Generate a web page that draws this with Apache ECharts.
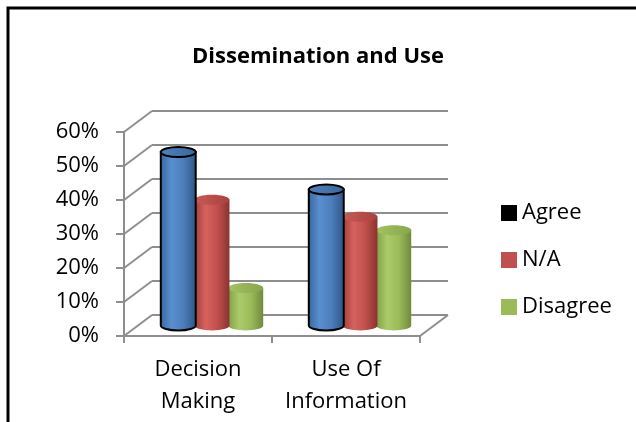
<!DOCTYPE html>
<html>
<head>
<meta charset="utf-8">
<script src="https://cdn.jsdelivr.net/npm/echarts@6/dist/echarts.min.js"></script>
<style>
  html, body { margin: 0; padding: 0; background: #fff; }
  #chart { width: 636px; height: 422px; }
</style>
</head>
<body>
<div id="chart"></div>
<script>
// Survey results: share of respondents per answer
const categories = ['Decision\nMaking', 'Use Of\nInformation'];
const seriesNames = ['Agree', 'N/A', 'Disagree'];
const agree = [51, 40];
const notApplicable = [37, 32];
const disagree = [11, 28];
const tickValues = [0, 10, 20, 30, 40, 50, 60];

const seriesValues = [agree, notApplicable, disagree];

// depth of the 3D box (back wall offset from the front plane)
const DX = 28, DY = -21;
const FONT = '"Open Sans", "DejaVu Sans", sans-serif';
const GRID_LINE = '#8e8e8e';

// cylinder shading per series
const shades = [
  { body: ['#36659c', '#5a8fd0', '#4b7dba', '#2c5483'], top: ['#4f80bb', '#3a689d'], stroke: '#000' },
  { body: ['#a23d3a', '#d6625e', '#c1504c', '#8a3330'], top: ['#c85a56', '#a8413e'], stroke: null },
  { body: ['#83a048', '#abcb6b', '#9bbb59', '#718a3d'], top: ['#a3c262', '#88a54b'], stroke: null }
];

function grad(stops) {
  const n = stops.length - 1;
  return {
    type: 'linear', x: 0, y: 0, x2: 1, y2: 0,
    colorStops: stops.map((c, i) => ({ offset: n === 3 ? [0, 0.32, 0.65, 1][i] : i / n, color: c }))
  };
}

function cylinderRenderer(si) {
  return function (params, api) {
    const ci = api.value(0);
    const v = api.value(1);
    const bw = api.size([1, 0])[0];
    const pTop = api.coord([ci, v]);
    const pBase = api.coord([ci, 0]);
    const rx = bw * 0.118;
    const ry = 5;
    const cx = pTop[0] + (si - 1) * bw * 0.228 + DX / 2;
    const yt = pTop[1] + DY / 2;
    const yb = pBase[1] + DY / 2;
    const s = shades[si];
    const x0 = cx - rx, x1 = cx + rx;
    const path = 'M' + x0 + ' ' + yt + 'L' + x0 + ' ' + yb +
      'A' + rx + ' ' + ry + ' 0 0 0 ' + x1 + ' ' + yb +
      'L' + x1 + ' ' + yt + 'Z';
    return {
      type: 'group',
      children: [
        {
          type: 'path',
          shape: { pathData: path },
          style: { fill: grad(s.body), stroke: s.stroke, lineWidth: 2 }
        },
        {
          type: 'ellipse',
          shape: { cx: cx, cy: yt, rx: rx, ry: ry },
          style: { fill: grad(s.top), stroke: s.stroke, lineWidth: 2 }
        }
      ]
    };
  };
}

// side wall and floor edges joining the front axis to the back wall
function wallRenderer(params, api) {
  const v = api.value(1);
  const bw = api.size([1, 0])[0];
  const p = api.coord([0, v]);
  const xl = p[0] - bw / 2;
  const children = [{
    type: 'line',
    shape: { x1: xl, y1: p[1], x2: xl + DX, y2: p[1] + DY },
    style: { stroke: GRID_LINE, lineWidth: 2 }
  }];
  if (v === tickValues[0]) {
    const xr = api.coord([categories.length - 1, v])[0] + bw / 2;
    children.push({
      type: 'line',
      shape: { x1: xr, y1: p[1], x2: xr + DX, y2: p[1] + DY },
      style: { stroke: GRID_LINE, lineWidth: 2 }
    });
  }
  return { type: 'group', children: children };
}

const front = { left: 124, right: 216, top: 132, bottom: 86 };

const chart = echarts.init(document.getElementById('chart'), null, { renderer: 'canvas' });

const option = {
  backgroundColor: '#fff',
  animation: false,
  title: {
    text: 'Dissemination and Use',
    left: 'center',
    top: 38,
    textStyle: { fontFamily: FONT, fontWeight: 'bold', fontSize: 22, color: '#000', lineHeight: 28 }
  },
  legend: {
    orient: 'vertical',
    left: 496,
    top: 196,
    icon: 'rect',
    itemWidth: 16,
    itemHeight: 16,
    itemGap: 23,
    textStyle: { fontFamily: FONT, fontSize: 22, color: '#000', lineHeight: 24 },
    data: [
      { name: seriesNames[0], itemStyle: { color: '#000' } },
      { name: seriesNames[1], itemStyle: { color: '#c0504d' } },
      { name: seriesNames[2], itemStyle: { color: '#9bbb59' } }
    ]
  },
  graphic: [{
    type: 'polyline',
    shape: { points: [[8, 422], [8, 8], [636, 8]] },
    style: { stroke: '#000', lineWidth: 3, fill: null },
    z: 10
  }],
  grid: [
    front,
    {
      left: front.left + DX, right: front.right - DX,
      top: front.top + DY, bottom: front.bottom - DY
    }
  ],
  xAxis: [
    {
      gridIndex: 0,
      type: 'category',
      data: categories,
      axisLine: { lineStyle: { color: GRID_LINE, width: 2 } },
      axisTick: { show: true, length: 7, lineStyle: { color: GRID_LINE, width: 2 } },
      axisLabel: {
        interval: 0, hideOverlap: false,
        margin: 18, fontFamily: FONT, fontSize: 22, lineHeight: 32, color: '#000'
      },
      splitLine: { show: false }
    },
    {
      gridIndex: 1,
      type: 'category',
      data: categories,
      axisLine: { show: false },
      axisTick: { show: false },
      axisLabel: { show: false },
      splitLine: { show: false }
    }
  ],
  yAxis: [
    {
      gridIndex: 0,
      type: 'value',
      min: tickValues[0],
      max: tickValues[tickValues.length - 1],
      interval: 10,
      axisLine: { show: true, lineStyle: { color: GRID_LINE, width: 2 } },
      axisTick: { show: true, length: 8, lineStyle: { color: GRID_LINE, width: 2 } },
      axisLabel: { margin: 25, formatter: '{value}%', fontFamily: FONT, fontSize: 22, color: '#000' },
      splitLine: { show: false }
    },
    {
      gridIndex: 1,
      type: 'value',
      min: tickValues[0],
      max: tickValues[tickValues.length - 1],
      interval: 10,
      axisLine: { show: false },
      axisTick: { show: false },
      axisLabel: { show: false },
      splitLine: { show: true, lineStyle: { color: GRID_LINE, width: 2 } }
    }
  ],
  series: [
    {
      name: 'walls',
      type: 'custom',
      xAxisIndex: 0,
      yAxisIndex: 0,
      silent: true,
      z: 1,
      renderItem: wallRenderer,
      data: tickValues.map(v => [0, v])
    }
  ].concat(seriesNames.map((name, si) => ({
    name: name,
    type: 'custom',
    xAxisIndex: 0,
    yAxisIndex: 0,
    z: 5 - si,
    itemStyle: { color: ['#4f81bd', '#c0504d', '#9bbb59'][si] },
    renderItem: cylinderRenderer(si),
    data: seriesValues[si].map((v, ci) => [ci, v])
  })))
};

chart.setOption(option);
</script>
</body>
</html>
